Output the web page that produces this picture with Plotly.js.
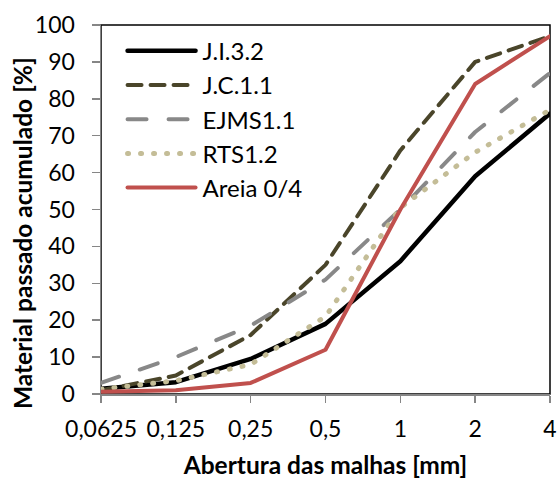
<!DOCTYPE html>
<html>
<head>
<meta charset="utf-8">
<script src="https://cdn.plot.ly/plotly-3.0.1.min.js"></script>
<style>
  html, body { margin: 0; padding: 0; background: #fff; }
  #chart { width: 557px; height: 479px; }
  .scatterlayer .js-line, .legend .legendlines path { stroke-linecap: round; stroke-linejoin: round; }
</style>
</head>
<body>
<div id="chart"></div>
<script>
// Sieve openings (mm) and cumulative passing (%) per material
const sieves = ['0,0625', '0,125', '0,25', '0,5', '1', '2', '4'];
const seriesNames = ['J.I.3.2', 'J.C.1.1', 'EJMS1.1', 'RTS1.2', 'Areia 0/4'];
const ji32   = [1.4, 3.2, 9.5, 19, 36, 59, 76];
const jc11   = [1, 5, 16, 35, 66, 90, 97];
const ejms11 = [3, 10, 18.5, 31, 50, 71, 87];
const rts12  = [1.3, 3.6, 8, 21, 50.5, 65.5, 77];
const areia  = [0.6, 1, 3, 12, 50, 84, 97];

const values = [ji32, jc11, ejms11, rts12, areia];
const lineStyles = [
  { color: '#000000', width: 4.5, dash: 'solid' },
  { color: '#4a452a', width: 4, dash: '14px,9px' },
  { color: '#888888', width: 4, dash: '19px,22px' },
  { color: '#c4bd97', width: 5, dash: '1px,12px' },
  { color: '#c0504d', width: 4, dash: 'solid' }
];

const font = 'Lato, "Open Sans", sans-serif';

const traces = seriesNames.map((name, i) => ({
  type: 'scatter',
  mode: 'lines',
  name: name,
  x: sieves,
  y: values[i],
  legendgroup: 'g' + i,
  line: lineStyles[i]
}));

const layout = {
  width: 557,
  height: 479,
  margin: { l: 101, r: 7, t: 25, b: 85 },
  paper_bgcolor: '#ffffff',
  plot_bgcolor: '#ffffff',
  font: { family: font, size: 23, color: '#000' },
  showlegend: true,
  legend: {
    x: 0.048, y: 0.99, xanchor: 'left', yanchor: 'top',
    bgcolor: 'rgba(0,0,0,0)',
    font: { family: font, size: 24, color: '#000' },
    traceorder: 'grouped',
    tracegroupgap: 0,
    itemwidth: 70
  },
  xaxis: {
    type: 'category',
    range: [0, 6],
    showgrid: false,
    zeroline: false,
    showline: true,
    linecolor: '#868686',
    linewidth: 1.5,
    ticks: 'outside',
    ticklen: 7,
    tickcolor: '#868686',
    tickwidth: 1.5,
    ticklabelstandoff: 7,
    tickfont: { family: font, size: 23 },
    title: { text: 'Abertura das malhas [mm]', font: { family: font, size: 24.5, weight: 'bold' }, standoff: 16 }
  },
  yaxis: {
    range: [0, 100],
    dtick: 10,
    showgrid: false,
    zeroline: false,
    showline: true,
    linecolor: '#868686',
    linewidth: 1.5,
    ticks: 'outside',
    ticklen: 8,
    tickcolor: '#868686',
    tickwidth: 1.5,
    ticklabelstandoff: 12,
    tickfont: { family: font, size: 23 }
  },
  // Vertical axis title, placed slightly below the plot's mid-height
  annotations: [{
    text: 'Material passado acumulado [%]',
    xref: 'paper', yref: 'paper',
    x: -0.1748, y: 0.435,
    xanchor: 'center', yanchor: 'middle',
    textangle: -90,
    showarrow: false,
    font: { family: font, size: 24.5, weight: 'bold', color: '#000' }
  }],
  shapes: [{
    type: 'rect', xref: 'paper', yref: 'paper', x0: 0, x1: 1, y0: 0, y1: 1,
    line: { color: '#000000', width: 1.5 }, layer: 'below'
  }]
};

Plotly.newPlot('chart', traces, layout, { staticPlot: true }).then(gd => {
  // Longer legend line samples
  gd.querySelectorAll('.legend .legendlines path').forEach(p => {
    p.setAttribute('d', 'M5,0h68');
  });
});
</script>
</body>
</html>
